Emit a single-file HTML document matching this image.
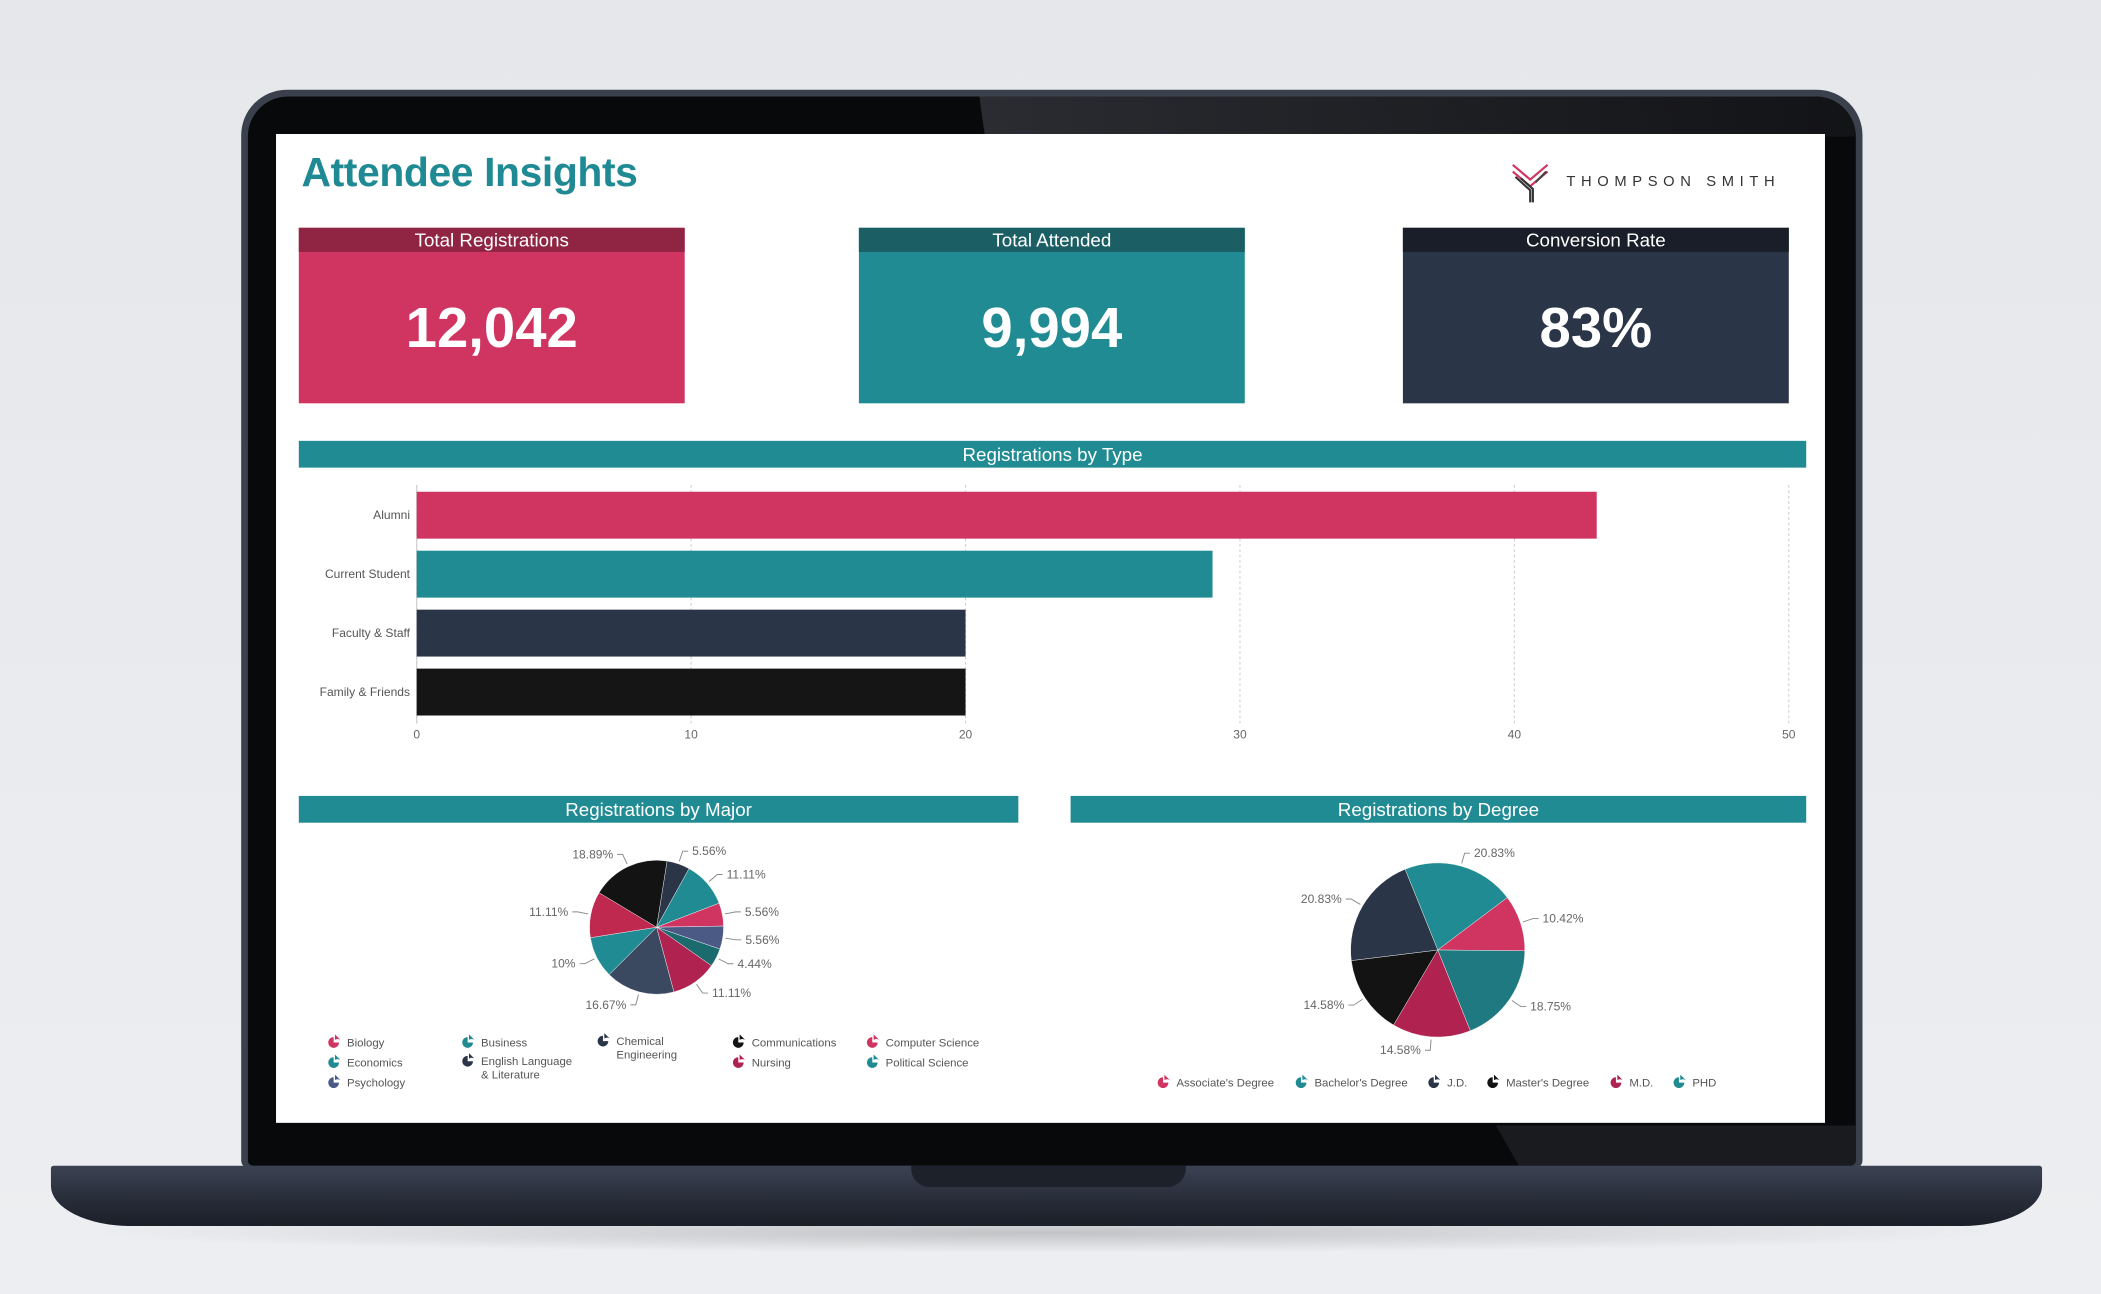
<!DOCTYPE html>
<html><head><meta charset="utf-8">
<style>
html,body{margin:0;padding:0;width:2101px;height:1294px;overflow:hidden;background:#e6e8ec;font-family:"Liberation Sans",sans-serif;}
#stage{position:absolute;left:0;top:0;width:1568px;height:966px;transform:scale(1.33992);transform-origin:0 0;background:linear-gradient(#e5e7eb,#eceef1);}
.abs{position:absolute;}
.card{position:absolute;top:170px;width:288px;height:131px;color:#fff;text-align:center;}
.card .hd{height:18px;line-height:18px;font-size:14px;}
.card .val{font-size:42px;font-weight:bold;line-height:113px;}
.sechd{position:absolute;height:20px;line-height:20px;background:#218b93;color:#fff;font-size:14px;text-align:center;}
</style></head>
<body>
<div id="stage">
  <div class="abs" style="left:60px;top:905px;width:1440px;height:30px;border-radius:50%;background:radial-gradient(rgba(0,0,0,0.18),rgba(0,0,0,0) 70%);"></div>
  <div class="abs" style="left:180px;top:67px;width:1210px;height:805px;background:#3a414c;border-radius:34px 34px 6px 6px;"></div>
  <div class="abs" style="left:185px;top:72px;width:1200px;height:798px;background:#08090b;border-radius:30px 30px 4px 4px;overflow:hidden;">
    <div class="abs" style="left:548px;top:0;width:660px;height:30px;background:linear-gradient(90deg,#2a2c31,#1c1d21 60%,#121316);transform:skewX(8deg);"></div>
    <div class="abs" style="left:940px;top:768px;width:270px;height:30px;background:#1a1b1f;transform:skewX(30deg);"></div>
  </div>
  <div class="abs" style="left:38px;top:870px;width:1486px;height:45px;background:linear-gradient(#3b4252,#262b37 60%,#1b1f28);border-radius:2px 2px 60px 60px/2px 2px 30px 30px;"></div>
  <div class="abs" style="left:680px;top:870px;width:205px;height:16px;background:#1d212a;border-radius:0 0 14px 14px;"></div>

  <div class="abs" style="left:206px;top:100px;width:1156px;height:738px;background:#fff;"></div>
  <div class="abs" style="left:225px;top:112px;font-size:30.5px;font-weight:bold;color:#1f8a93;letter-spacing:-0.3px;">Attendee Insights</div>
  <div class="abs" style="left:1128px;top:120px;">
    <svg width="40" height="32"><g stroke-width="1.6" fill="none"><path d="M1 3 L14 14 L27 3" stroke="#d03562"/><path d="M1 8 L14 19 L27 8" stroke="#d03562"/><path d="M3 12 L14 22 L14 31" stroke="#333"/><path d="M7 13 L16 21 L16 31" stroke="#333"/><path d="M26 8 L18 16" stroke="#444"/></g></svg>
  </div>
  <div class="abs" style="left:1169px;top:130px;font-size:11px;letter-spacing:4.2px;color:#333;">THOMPSON SMITH</div>

  <div class="card" style="left:223px;background:#d03562;"><div class="hd" style="background:#8f2443;">Total Registrations</div><div class="val">12,042</div></div>
  <div class="card" style="left:641px;background:#218b93;"><div class="hd" style="background:#1b5f65;">Total Attended</div><div class="val">9,994</div></div>
  <div class="card" style="left:1047px;background:#2b3548;"><div class="hd" style="background:#191e29;">Conversion Rate</div><div class="val">83%</div></div>

  <div class="sechd" style="left:223px;top:329px;width:1125px;">Registrations by Type</div>
  <div class="sechd" style="left:223px;top:594px;width:537px;">Registrations by Major</div>
  <div class="sechd" style="left:799px;top:594px;width:549px;">Registrations by Degree</div>

  <svg id="charts" class="abs" style="left:0;top:0;" width="1568" height="966"></svg>
</div>
<script>
const barCategories=["Alumni","Current Student","Faculty & Staff","Family & Friends"];
const barValues=[43,29,20,20];
const barColors=["#d03562","#218b93","#2b3548","#151515"];
const xTicks=[0,10,20,30,40,50];

const majorNames=["Chemical Engineering","Business","Biology","Psychology","Political Science","Nursing","English Language & Literature","Economics","Computer Science","Communications"];
const majorValues=[5.56,11.11,5.56,5.56,4.44,11.11,16.67,10,11.11,18.89];
const majorColors=["#2b3548","#218b93","#d03562","#4a5a85","#1b6b6e","#b02350","#3b4960","#218b93","#c0294f","#131313"];
const majorLabels=["5.56%","11.11%","5.56%","5.56%","4.44%","11.11%","16.67%","10%","11.11%","18.89%"];

const degreeNames=["Bachelor's Degree","Associate's Degree","PHD","M.D.","Master's Degree","J.D."];
const degreeValues=[20.83,10.42,18.75,14.58,14.58,20.83];
const degreeColors=["#218b93","#d03562","#1e7a80","#b02350","#131313","#2b3548"];
const degreeLabels=["20.83%","10.42%","18.75%","14.58%","14.58%","20.83%"];

const majorLegend=[["Biology","#d03562",245,778],["Business","#218b93",345,778],["Chemical\nEngineering","#2b3548",446,777],["Communications","#131313",547,778],["Computer Science","#d03562",647,778],["Economics","#218b93",245,793],["English Language\n& Literature","#2b3548",345,792],["Nursing","#b02350",547,793],["Political Science","#218b93",647,793],["Psychology","#4a5a85",245,808]];
const degreeLegend=[["Associate's Degree","#d03562",864,808],["Bachelor's Degree","#218b93",967,808],["J.D.","#2b3548",1066,808],["Master's Degree","#131313",1110,808],["M.D.","#b02350",1202,808],["PHD","#218b93",1249,808]];

const NS="http://www.w3.org/2000/svg";
const svg=document.getElementById("charts");
function mk(tag,attrs,parent){const e=document.createElementNS(NS,tag);for(const k in attrs)e.setAttribute(k,attrs[k]);(parent||svg).appendChild(e);return e;}
function txt(s,x,y,attrs,parent){const t=mk("text",Object.assign({x:x,y:y,"font-family":"Liberation Sans, sans-serif"},attrs),parent);t.textContent=s;return t;}

const x0=311,x1=1335,maxV=50;
const xs=v=>x0+v/maxV*(x1-x0);
const bandTop=362,bandH=44,barH=35;
xTicks.forEach(t=>{
  const l=mk("line",{x1:xs(t),x2:xs(t),y1:362,y2:540,stroke:"#cfcfcf","stroke-dasharray":"2,2","stroke-width":0.8});
  
  
  const tl=txt(t,xs(t),551,{"font-size":9,fill:"#666","text-anchor":"middle"});
  
  
});
const axis=mk("line",{x1:x0,x2:x0,y1:362,y2:540,stroke:"#ccc","stroke-width":0.8});


barCategories.forEach((c,i)=>{
  const y=bandTop+5+i*bandH;
  const r=mk("rect",{x:x0,y:y,width:xs(barValues[i])-x0,height:barH,fill:barColors[i]});
  
  
  const l=txt(c,306,y+barH/2+3,{"font-size":9,fill:"#555","text-anchor":"end"});
  
  
});

function pie(values,colors,labels,names,cx,cy,r,startDeg,prefix){
  const total=values.reduce((a,b)=>a+b,0);
  let a=startDeg;
  values.forEach((v,i)=>{
    const span=v/total*360;
    const a0=(a-90)*Math.PI/180,a1=(a+span-90)*Math.PI/180;
    const p0=[cx+r*Math.cos(a0),cy+r*Math.sin(a0)],p1=[cx+r*Math.cos(a1),cy+r*Math.sin(a1)];
    const large=span>180?1:0;
    const s=mk("path",{d:`M${cx},${cy} L${p0[0]},${p0[1]} A${r},${r} 0 ${large} 1 ${p1[0]},${p1[1]} Z`,fill:colors[i],stroke:"#fff","stroke-width":0.3});
    
    
    const m=(a+span/2-90)*Math.PI/180;
    const e1=[cx+(r+2)*Math.cos(m),cy+(r+2)*Math.sin(m)];
    const e2=[cx+(r+10)*Math.cos(m),cy+(r+10)*Math.sin(m)];
    const right=Math.cos(m)>=0;
    const e3=[e2[0]+(right?4:-4),e2[1]];
    const ll=mk("polyline",{points:`${e1[0]},${e1[1]} ${e2[0]},${e2[1]} ${e3[0]},${e3[1]}`,fill:"none",stroke:"#888","stroke-width":0.7});
    
    
    const t=txt(labels[i],e3[0]+(right?3:-3),e3[1]+3,{"font-size":9,fill:"#666","text-anchor":right?"start":"end"});
    
    
    a+=span;
  });
}
pie(majorValues,majorColors,majorLabels,majorNames,490,692,50,9,"major");
pie(degreeValues,degreeColors,degreeLabels,degreeNames,1073,709,65,-22,"degree");

function legend(items,prefix){
  items.forEach(it=>{
    const g=mk("g",{});
    
    
    const [name,col,x,y]=it;
    mk("path",{d:`M${x+4},${y-4} A4,4 0 1 0 ${x+8},${y} L${x+4},${y} Z`,fill:col},g);
    mk("path",{d:`M${x+5},${y-6} L${x+5},${y-2} A4,4 0 0 1 ${x+9},${y-2}`,fill:col},g);
    name.split("\n").forEach((ln,k)=>txt(ln,x+14,y+3+k*10,{"font-size":8.5,fill:"#555"},g));
  });
}
legend(majorLegend,"major");
legend(degreeLegend,"degree");
</script>
</body></html>
